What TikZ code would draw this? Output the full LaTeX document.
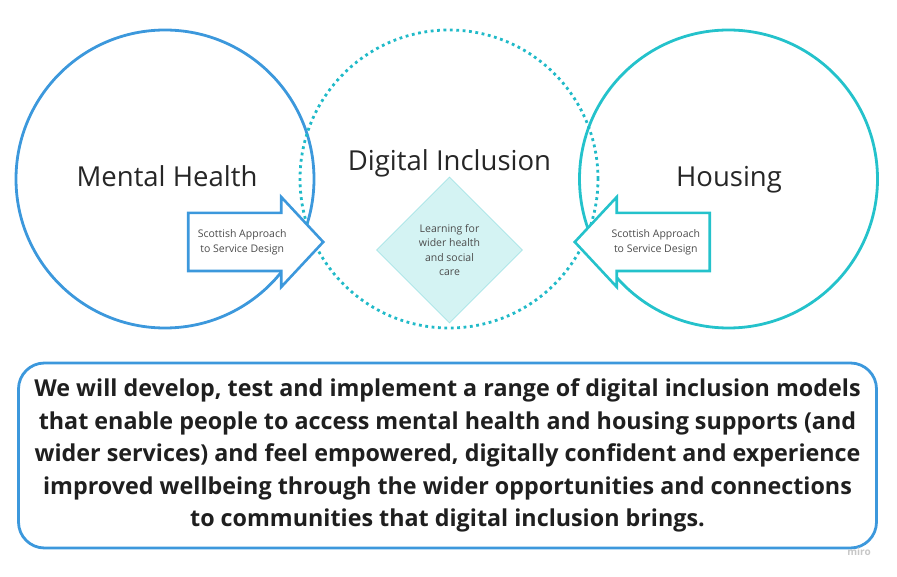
\documentclass[tikz,border=0pt]{standalone}
\usepackage{fontspec}
\setmainfont{Open Sans}
\usepackage{tikz}
\usetikzlibrary{shapes.geometric,shapes.arrows}

\definecolor{miroblue}{HTML}{3C98DC}
\definecolor{miroteal}{HTML}{20BAC8}
\definecolor{miroturq}{HTML}{24C2CB}
\definecolor{diamondfill}{HTML}{D4F3F3}
\definecolor{diamondline}{HTML}{A6E4E6}

\begin{document}
\begin{tikzpicture}[
		x=1pt, y=-1pt,
		every node/.style={inner sep=0pt, text=black!85},
		bigcircle/.style={circle, draw, line width=2.8pt, minimum size=298pt},
		title/.style={anchor=base, font=\fontsize{27.5}{32}\selectfont},
		sasd/.style={single arrow, draw=#1, fill=white, line width=2.6pt, align=center,
			minimum height=135pt, inner xsep=4pt, inner ysep=15pt,
			single arrow head extend=16pt, single arrow tip angle=94,
			font=\fontsize{10.5}{15}\selectfont, text=black!70},
		every label/.append style={rectangle}
	]
  \useasboundingbox (0,0) rectangle (897,577);
  \node (mental_health) [bigcircle, draw=miroblue] at (165,179) {};
  \node (housing) [bigcircle, draw=miroturq] at (728.5,179) {};
  \node (digital) [bigcircle, draw=miroteal, dash pattern=on 2.8pt off 3.6pt] at (449,179) {};
  \node (mental_health_label) [title] at (167,186.5) {Mental Health};
  \node (digital_label) [title] at (449.5,171) {Digital Inclusion};
  \node (housing_label) [title] at (729,186.5) {Housing};
  \node (sasd_l) [sasd=miroblue, anchor=tip] at (325,242) {Scottish Approach\\to Service Design};
  \node (sasd_r) [sasd=miroturq, shape border rotate=180, anchor=tip] at (573,242) {Scottish Approach\\to Service Design};
  \node (learning) [diamond, aspect=1, minimum size=146pt, fill=diamondfill, draw=diamondline, line width=0.8pt,
    align=center, font=\fontsize{10.5}{14.5}\selectfont, text=black!70] at (449.5,250) {Learning for\\wider health\\and social\\care};
  \node (aim) [rectangle, rounded corners=26pt, draw=miroblue, line width=2.8pt, minimum width=858pt, minimum height=185pt,
    align=center, font=\bfseries\fontsize{23.3}{32.5}\selectfont, text=black!88] at (447.5,455.5)
    {We will develop, test and implement a range of digital inclusion models\\
     that enable people to access mental health and housing supports (and\\
     wider services) and feel empowered, digitally confident and experience\\
     improved wellbeing through the wider opportunities and connections\\
     to communities that digital inclusion brings.};
  \node (miro) [font=\bfseries\fontsize{10}{12}\selectfont, text=black!22] at (859,552) {miro};
\end{tikzpicture}
\end{document}
